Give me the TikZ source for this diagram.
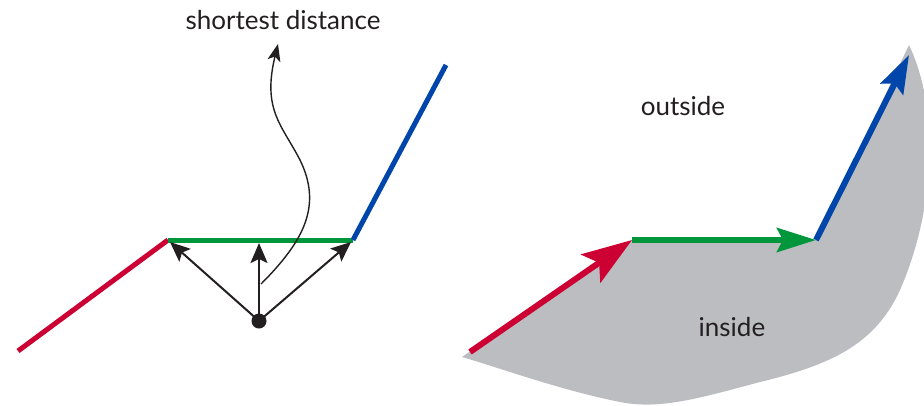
\documentclass[tikz,border=0pt]{standalone}
\usepackage{fontspec}
\setmainfont{Lato}
\usetikzlibrary{arrows.meta}
\definecolor{cred}{RGB}{204,0,51}
\definecolor{cgreen}{RGB}{0,150,60}
\definecolor{cblue}{RGB}{0,70,170}
\definecolor{cgray}{RGB}{188,189,193}
\definecolor{ctext}{RGB}{35,31,32}
\begin{document}
\begin{tikzpicture}[x=1pt,y=-1pt,
  seg/.style={line width=5pt},
  blk/.style={line width=2pt,ctext,-{Stealth[length=20pt,width=17pt,inset=4pt]}},
  bigarrow/.style={line width=6pt},
  lbl/.style={font=\fontsize{26}{30}\selectfont,text=ctext,inner sep=0pt}]
\useasboundingbox (0,0) rectangle (924,405);
\fill[white] (0,0) rectangle (924,405);
% left panel
\coordinate (a) at (18,351);
\coordinate (b) at (168,240);
\coordinate (c) at (353,240);
\coordinate (d) at (446,65);
\draw[seg,cred] (a) -- (b);
\draw[seg,cgreen] (b) -- (c);
\draw[seg,cblue] (c) -- (d);
\node[circle,fill=ctext,minimum size=15pt,inner sep=0pt] (dot) at (259,321) {};
\coordinate (m) at (259,243);
\coordinate (bl) at (170,242);
\coordinate (cr) at (351,242);
\draw[blk] (dot.center) -- (bl);
\draw[blk] (dot.center) -- (m);
\draw[blk] (dot.center) -- (cr);
\coordinate (cs) at (261,284);
\coordinate (ct) at (278,44);
\draw[line width=1.4pt,ctext,-{Stealth[length=17pt,width=13pt,inset=4pt]}]
  (cs) .. controls (305,240) and (322,205) .. (300,160)
       .. controls (282,125) and (262,110) .. (ct);
\node[lbl] (sd) at (283,20) {shortest distance};
% right panel
\begin{scope}
\clip (0,0) rectangle (924,405);
\fill[cgray] (462,357) -- (632,240) -- (816,240) -- (909,45)
  .. controls (940,110) and (935,210) .. (900,290)
  .. controls (875,345) and (830,365) .. (760,382)
  .. controls (700,398) and (660,410) .. (620,402)
  .. controls (560,390) and (500,368) .. (462,357) -- cycle;
\end{scope}
\coordinate (r0) at (470,352);
\coordinate (r1) at (632,240);
\coordinate (g1) at (816,240);
\coordinate (b1) at (909,55);
\draw[bigarrow,cred,-{Stealth[length=50pt,width=34pt,inset=10pt]}] (r0) -- (r1);
\draw[bigarrow,cgreen,-{Stealth[length=39pt,width=24pt,inset=6pt]}] (r1) -- (g1);
\draw[bigarrow,cblue,-{Stealth[length=38pt,width=25pt,inset=6pt]}] (g1) -- (b1);
\node[lbl] (out) at (683,106) {outside};
\node[lbl] (ins) at (732,327) {inside};
\end{tikzpicture}
\end{document}
